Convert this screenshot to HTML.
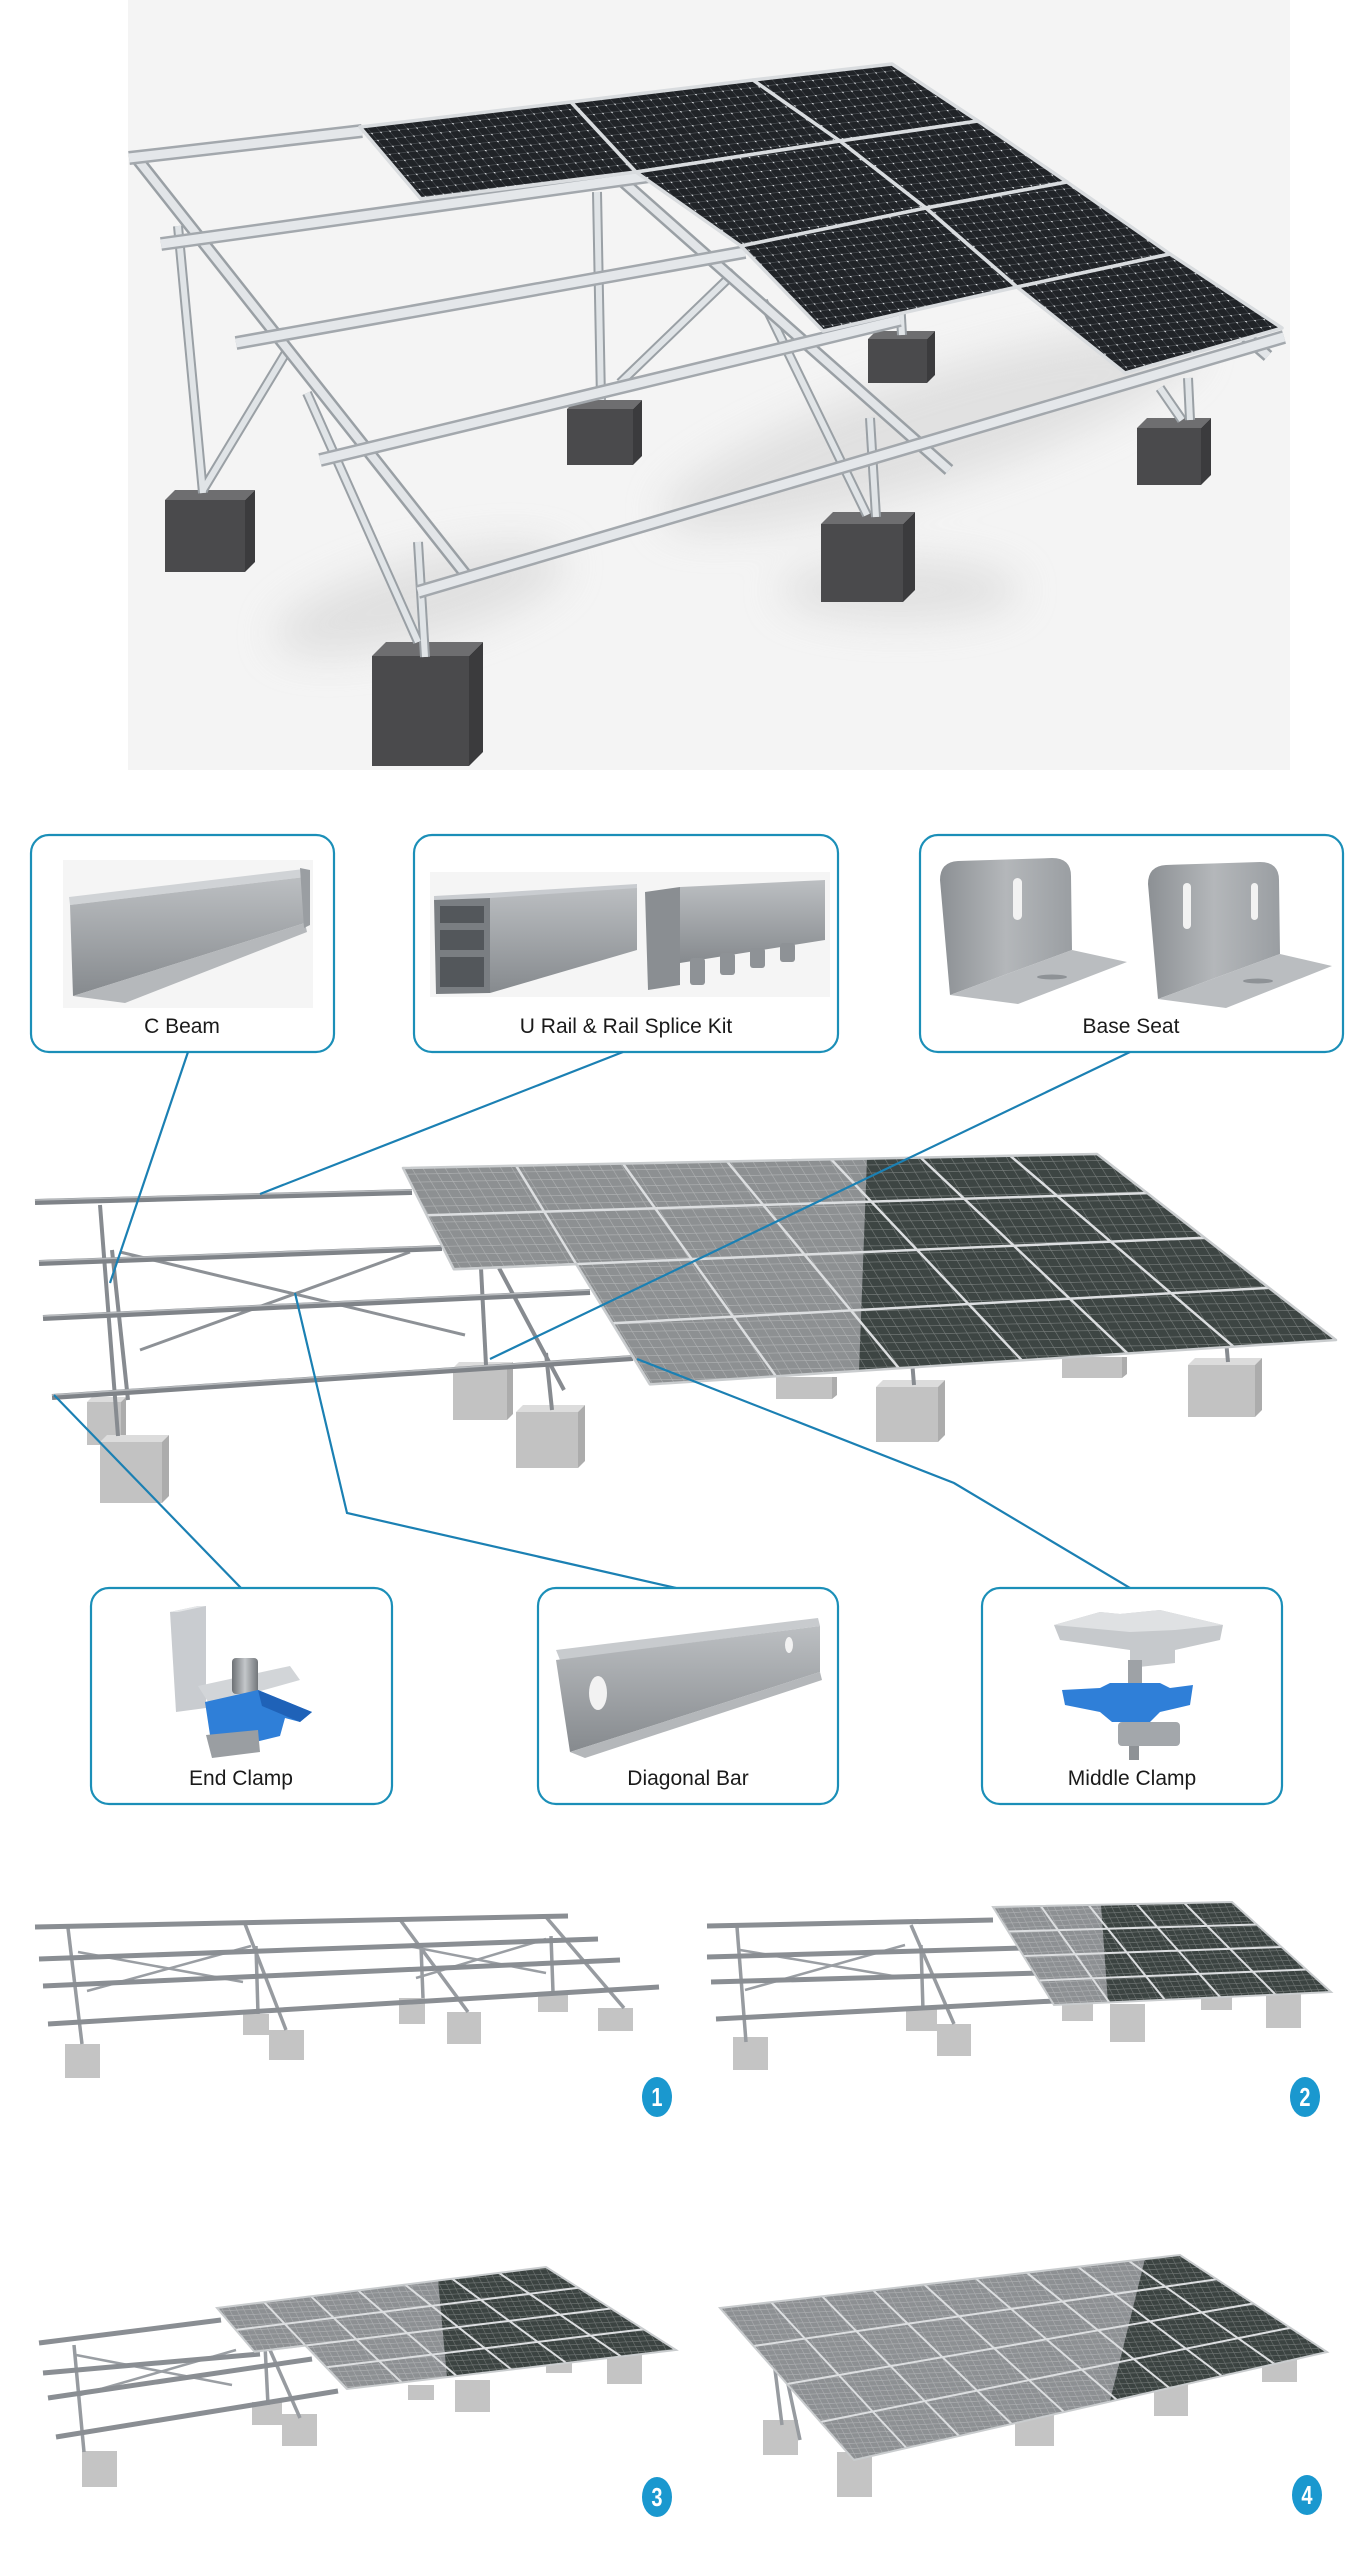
<!DOCTYPE html>
<html><head><meta charset="utf-8">
<style>
html,body{margin:0;padding:0;background:#fff;width:1360px;height:2560px;overflow:hidden;}
svg{display:block;}
text{font-family:"Liberation Sans",Arial,sans-serif;}
</style></head><body>
<svg width="1360" height="2560" viewBox="0 0 1360 2560" xmlns="http://www.w3.org/2000/svg">
<defs>
 <pattern id="pc" width="9" height="7" patternUnits="userSpaceOnUse" patternTransform="matrix(1,-0.12,0.85,1,0,0)">
  <rect width="9" height="7" fill="#202327"/>
  <path d="M0 0.3H9M0.3 0V7" stroke="#4a4e53" stroke-width="0.7"/>
  <circle cx="0.5" cy="0.5" r="0.9" fill="#e2e5e8"/>
 </pattern>
 <pattern id="pg" width="11" height="8" patternUnits="userSpaceOnUse" patternTransform="matrix(1,-0.02,0.6,1,0,0)">
  <path d="M0 0.3H11M0.3 0V8" stroke="#ffffff" stroke-opacity="0.3" stroke-width="0.7"/>
 </pattern>
 <pattern id="pgs" width="7" height="5" patternUnits="userSpaceOnUse" patternTransform="matrix(1,-0.05,0.5,1,0,0)">
  <path d="M0 0.3H7M0.3 0V5" stroke="#ffffff" stroke-opacity="0.28" stroke-width="0.6"/>
 </pattern>
 <filter id="blur" x="-50%" y="-50%" width="200%" height="200%"><feGaussianBlur stdDeviation="20"/></filter>
 <linearGradient id="stl" x1="0" y1="0" x2="0" y2="1"><stop offset="0" stop-color="#bcbfc2"/><stop offset="1" stop-color="#868a8e"/></linearGradient>
 <linearGradient id="stl2" x1="0" y1="0" x2="1" y2="0"><stop offset="0" stop-color="#8c9094"/><stop offset="0.5" stop-color="#b4b7ba"/><stop offset="1" stop-color="#9a9ea2"/></linearGradient>
 <linearGradient id="bolt" x1="0" y1="0" x2="1" y2="0"><stop offset="0" stop-color="#6d7175"/><stop offset="0.5" stop-color="#c4c7ca"/><stop offset="1" stop-color="#72767a"/></linearGradient>

 <g id="tp">
  <line x1="178" y1="226" x2="203" y2="493"/>
  <line x1="203" y1="490" x2="290" y2="346"/>
  <line x1="597" y1="192" x2="601" y2="400"/>
  <line x1="620" y1="383" x2="735" y2="272"/>
  <line x1="900" y1="300" x2="902" y2="335"/>
  <line x1="1188" y1="378" x2="1190" y2="420"/>
  <line x1="1160" y1="388" x2="1182" y2="420"/>
  <line x1="307" y1="393" x2="418" y2="642"/>
  <line x1="418" y1="542" x2="425" y2="657"/>
  <line x1="763" y1="301" x2="867" y2="515"/>
  <line x1="870" y1="418" x2="876" y2="517"/>
 </g>
 <g id="traf">
  <line x1="138" y1="160" x2="470" y2="580"/>
  <line x1="610" y1="170" x2="949" y2="470"/>
  <line x1="1236" y1="328" x2="1268" y2="356"/>
 </g>
 <g id="trail">
  <line x1="129" y1="158" x2="362" y2="131"/>
  <line x1="161" y1="244" x2="650" y2="176"/>
  <line x1="236" y1="343" x2="745" y2="252"/>
  <line x1="320" y1="460" x2="900" y2="320"/>
  <line x1="418" y1="592" x2="1284" y2="337"/>
 </g>
</defs>

<!-- ============ TOP PHOTO ============ -->
<rect x="128" y="0" width="1162" height="770" fill="#f4f4f4"/>
<g filter="url(#blur)" fill="#d8d8d8" opacity="0.7">
 <ellipse cx="930" cy="430" rx="280" ry="55" transform="rotate(-18 930 430)"/>
 <ellipse cx="420" cy="600" rx="150" ry="40" transform="rotate(-15 420 600)"/>
 <ellipse cx="900" cy="590" rx="120" ry="30"/>
</g>

<!-- blocks -->
<g>
 <polygon points="165,500 175,490 255,490 245,500" fill="#6e6e70"/>
 <rect x="165" y="500" width="80" height="72" fill="#4a4a4c"/>
 <polygon points="245,500 255,490 255,562 245,572" fill="#3b3b3d"/>

 <polygon points="567,409 576,400 642,400 633,409" fill="#6e6e70"/>
 <rect x="567" y="409" width="66" height="56" fill="#4a4a4c"/>
 <polygon points="633,409 642,400 642,456 633,465" fill="#3b3b3d"/>

 <polygon points="868,339 876,331 935,331 927,339" fill="#6e6e70"/>
 <rect x="868" y="339" width="59" height="44" fill="#4a4a4c"/>
 <polygon points="927,339 935,331 935,375 927,383" fill="#3b3b3d"/>

 <polygon points="1137,428 1147,418 1211,418 1201,428" fill="#6e6e70"/>
 <rect x="1137" y="428" width="64" height="57" fill="#4a4a4c"/>
 <polygon points="1201,428 1211,418 1211,475 1201,485" fill="#3b3b3d"/>

 <polygon points="821,524 833,512 915,512 903,524" fill="#6e6e70"/>
 <rect x="821" y="524" width="82" height="78" fill="#4a4a4c"/>
 <polygon points="903,524 915,512 915,590 903,602" fill="#3b3b3d"/>

 <polygon points="372,656 386,642 483,642 469,656" fill="#6e6e70"/>
 <rect x="372" y="656" width="97" height="110" fill="#4a4a4c"/>
 <polygon points="469,656 483,642 483,752 469,766" fill="#3b3b3d"/>
</g>

<!-- frame -->
<use href="#tp" stroke="#9aa0a5" stroke-width="10" stroke-linecap="butt"/>
<use href="#tp" stroke="#e0e4e7" stroke-width="6"/>
<use href="#traf" stroke="#9aa0a5" stroke-width="13"/>
<use href="#traf" stroke="#e2e5e8" stroke-width="8"/>
<use href="#trail" stroke="#a3a8ad" stroke-width="14"/>
<use href="#trail" stroke="#e4e7ea" stroke-width="9"/>

<!-- panels -->
<g fill="url(#pc)" stroke="#d9dcdf" stroke-width="3.5" stroke-linejoin="round">
 <polygon points="360,127 571,102 636,172 421,199"/>
 <polygon points="571,102 753,80 840,141 636,172"/>
 <polygon points="753,80 892,64 978,121 840,141"/>
 <polygon points="636,172 840,141 926,208 741,246"/>
 <polygon points="840,141 978,121 1067,182 926,208"/>
 <polygon points="741,246 926,208 1017,287 823,331"/>
 <polygon points="926,208 1067,182 1170,254 1017,287"/>
 <polygon points="1017,287 1170,254 1282,328 1125,373"/>
</g>

<!-- ============ ROW 1 BOXES ============ -->
<g fill="#fff" stroke="#1b8fb8" stroke-width="2.2">
 <rect x="31" y="835" width="303" height="217" rx="18"/>
 <rect x="414" y="835" width="424" height="217" rx="18"/>
 <rect x="920" y="835" width="423" height="217" rx="18"/>
</g>

<!-- C Beam image -->
<rect x="63" y="860" width="250" height="148" fill="#f5f5f5"/>
<polygon points="69,897 304,869 305,877 70,905" fill="#d0d3d6"/>
<polygon points="100,905 124,902 124,917 100,920" fill="#a0a4a8"/>
<polygon points="70,905 305,877 305,923 73,996" fill="url(#stl)"/>
<polygon points="73,996 305,923 307,932 125,1003" fill="#b5b8bb"/>
<polygon points="300,868 310,870 310,925 304,928" fill="#9a9ea2"/>

<!-- U rail image -->
<rect x="430" y="872" width="400" height="125" fill="#f5f5f5"/>
<polygon points="490,897 637,886 637,950 490,993" fill="url(#stl)"/>
<polygon points="434,899 490,896 490,993 436,994" fill="#7a7e82"/>
<rect x="440" y="906" width="44" height="17" fill="#53575b"/>
<rect x="440" y="930" width="44" height="20" fill="#53575b"/>
<rect x="440" y="957" width="44" height="30" fill="#53575b"/>
<polygon points="434,896 490,893 637,884 637,888 490,898 434,900" fill="#c9ccd0"/>
<polygon points="680,887 825,880 825,940 680,963" fill="url(#stl)"/>
<polygon points="645,892 680,887 680,985 648,990" fill="#8a8e92"/>
<g fill="#8e9296">
 <rect x="690" y="958" width="15" height="27" rx="3"/>
 <rect x="720" y="953" width="15" height="22" rx="3"/>
 <rect x="750" y="948" width="15" height="20" rx="3"/>
 <rect x="780" y="943" width="15" height="19" rx="3"/>
</g>

<!-- Base seat image -->
<path d="M940,880 Q940,862 958,861 L1052,858 Q1071,858 1071,876 L1072,950 L950,995 Z" fill="url(#stl2)"/>
<rect x="1013" y="878" width="9" height="42" rx="4.5" fill="#f2f2f2"/>
<polygon points="950,995 1072,950 1127,962 1018,1004" fill="#babdc0"/>
<ellipse cx="1052" cy="977" rx="15" ry="2.5" fill="#8e9296"/>
<path d="M1148,884 Q1148,866 1166,865 L1260,862 Q1279,862 1279,880 L1280,954 L1158,999 Z" fill="url(#stl2)"/>
<rect x="1183" y="883" width="8" height="46" rx="4" fill="#f2f2f2"/>
<rect x="1251" y="883" width="7" height="37" rx="3.5" fill="#f2f2f2"/>
<polygon points="1158,999 1280,954 1332,966 1226,1008" fill="#babdc0"/>
<ellipse cx="1258" cy="981" rx="15" ry="2.5" fill="#8e9296"/>

<g font-size="21" fill="#1a1a1a" text-anchor="middle">
 <text x="182" y="1033">C Beam</text>
 <text x="626" y="1033">U Rail &amp; Rail Splice Kit</text>
 <text x="1131" y="1033">Base Seat</text>
</g>

<!-- ============ MIDDLE ILLUSTRATION ============ -->
<g>
 <!-- concrete blocks -->
 <g>
  <polygon points="87,1402 92,1397 126,1397 121,1402" fill="#dcdcdc"/><rect x="87" y="1402" width="34" height="43" fill="#c2c2c2"/><polygon points="121,1402 126,1397 126,1440 121,1445" fill="#acacac"/>
  <polygon points="100,1442 107,1435 169,1435 162,1442" fill="#dcdcdc"/><rect x="100" y="1442" width="62" height="61" fill="#c2c2c2"/><polygon points="162,1442 169,1435 169,1496 162,1503" fill="#acacac"/>
  <polygon points="453,1368 459,1362 513,1362 507,1368" fill="#dcdcdc"/><rect x="453" y="1368" width="54" height="52" fill="#c2c2c2"/><polygon points="507,1368 513,1362 513,1414 507,1420" fill="#acacac"/>
  <polygon points="516,1412 523,1405 585,1405 578,1412" fill="#dcdcdc"/><rect x="516" y="1412" width="62" height="56" fill="#c2c2c2"/><polygon points="578,1412 585,1405 585,1461 578,1468" fill="#acacac"/>
  <rect x="776" y="1377" width="56" height="22" fill="#c2c2c2"/><polygon points="832,1377 837,1377 837,1395 832,1399" fill="#acacac"/>
  <polygon points="876,1387 883,1380 945,1380 938,1387" fill="#dcdcdc"/><rect x="876" y="1387" width="62" height="55" fill="#c2c2c2"/><polygon points="938,1387 945,1380 945,1435 938,1442" fill="#acacac"/>
  <rect x="1062" y="1357" width="60" height="21" fill="#c2c2c2"/><polygon points="1122,1357 1127,1357 1127,1374 1122,1378" fill="#acacac"/>
  <polygon points="1188,1365 1195,1358 1262,1358 1255,1365" fill="#dcdcdc"/><rect x="1188" y="1365" width="67" height="52" fill="#c2c2c2"/><polygon points="1255,1365 1262,1358 1262,1410 1255,1417" fill="#acacac"/>
 </g>
 <!-- posts & braces -->
 <g stroke="#878b90" stroke-width="4">
  <line x1="100" y1="1205" x2="118" y2="1436"/>
  <line x1="112" y1="1250" x2="128" y2="1400"/>
  <line x1="481" y1="1268" x2="486" y2="1365"/>
  <line x1="499" y1="1268" x2="564" y2="1390"/>
  <line x1="546" y1="1353" x2="552" y2="1410"/>
  <line x1="912" y1="1360" x2="914" y2="1385"/>
  <line x1="1226" y1="1340" x2="1228" y2="1362"/>
 </g>
 <g stroke="#8d9196" stroke-width="3">
  <line x1="120" y1="1252" x2="465" y2="1335"/>
  <line x1="410" y1="1252" x2="140" y2="1350"/>
 </g>
 <g stroke="#7f8388" stroke-width="6">
  <line x1="35" y1="1202" x2="412" y2="1192"/>
  <line x1="39" y1="1263" x2="442" y2="1248"/>
  <line x1="43" y1="1318" x2="590" y2="1292"/>
  <line x1="52" y1="1397" x2="633" y2="1358"/>
 </g>
 <g stroke="#b7babd" stroke-width="1.5">
  <line x1="35" y1="1200" x2="412" y2="1190"/>
  <line x1="39" y1="1261" x2="442" y2="1246"/>
  <line x1="43" y1="1316" x2="590" y2="1290"/>
  <line x1="52" y1="1395" x2="633" y2="1356"/>
 </g>
 <!-- panel array -->
 <polygon points="403,1168 1097,1154 1336,1340 650,1384.4 576.3,1264.1 453.9,1269.3" fill="#8a8d90"/>
 <polygon points="403,1168 867,1158.6 859,1370.9 650,1384.4 576.3,1264.1 453.9,1269.3" fill="#8f9295" opacity="0.6"/>
 <polygon points="867,1158.6 1097,1154 1336,1340 859,1370.9" fill="#3d4543"/>
 <polygon points="403,1168 1097,1154 1336,1340 650,1384.4 576.3,1264.1 453.9,1269.3" fill="url(#pg)"/>
 <g stroke="#dcdee0" stroke-width="2.5">
  <line x1="516.1" y1="1165.7" x2="649.7" y2="1384.4"/>
  <line x1="623.0" y1="1163.6" x2="775.9" y2="1376.2"/>
  <line x1="727.1" y1="1161.5" x2="898.9" y2="1368.2"/>
  <line x1="831.2" y1="1159.4" x2="1021.9" y2="1360.3"/>
  <line x1="920.7" y1="1157.6" x2="1127.7" y2="1353.5"/>
  <line x1="1010.3" y1="1155.8" x2="1233.5" y2="1346.6"/>
  <line x1="426.7" y1="1215.3" x2="1147.2" y2="1193.1"/>
  <line x1="453.9" y1="1269.3" x2="1204.6" y2="1237.7"/>
  <line x1="612.5" y1="1323.2" x2="1269.1" y2="1287.9"/>
 </g>
 <polygon points="403,1168 1097,1154 1336,1340 650,1384.4 576.3,1264.1 453.9,1269.3" fill="none" stroke="#c9ccce" stroke-width="2.5" stroke-linejoin="round"/>
</g>

<!-- connector lines -->
<g fill="none" stroke="#1b80b3" stroke-width="2.2">
 <polyline points="188,1052 110,1283"/>
 <polyline points="623,1052 260,1194"/>
 <polyline points="1130,1052 490,1359"/>
 <polyline points="241,1588 54,1395"/>
 <polyline points="676,1588 347,1513 295,1293"/>
 <polyline points="1130,1588 954,1483 637,1359"/>
</g>

<!-- ============ ROW 2 BOXES ============ -->
<g fill="#fff" stroke="#1b8fb8" stroke-width="2.2">
 <rect x="91" y="1588" width="301" height="216" rx="18"/>
 <rect x="538" y="1588" width="300" height="216" rx="18"/>
 <rect x="982" y="1588" width="300" height="216" rx="18"/>
</g>

<!-- End clamp -->
<path d="M170,1612 L198,1606 L206,1606 L206,1708 L176,1712 Z" fill="#c9ccd0"/>
<polygon points="170,1612 198,1606 206,1606 178,1612" fill="#e4e6e8"/>
<polygon points="198,1686 290,1666 300,1680 210,1705" fill="#d2d5d8"/>
<rect x="232" y="1658" width="26" height="36" rx="4" fill="url(#bolt)"/>
<polygon points="205,1702 258,1690 312,1712 300,1722 285,1718 280,1736 235,1747 210,1735" fill="#2f7fd8"/>
<polygon points="258,1690 312,1712 300,1722 262,1706" fill="#1f62b8"/>
<polygon points="206,1735 258,1730 260,1752 212,1758" fill="#9a9ea2"/>

<!-- Diagonal bar -->
<polygon points="556,1650 818,1618 820,1626 560,1660" fill="#c8cbce"/>
<polygon points="556,1660 820,1626 820,1672 570,1752" fill="url(#stl)"/>
<polygon points="570,1752 820,1672 822,1680 585,1758" fill="#b4b7ba"/>
<ellipse cx="598" cy="1693" rx="9" ry="17" fill="#f2f2f2"/>
<ellipse cx="789" cy="1645" rx="4" ry="8" fill="#f2f2f2"/>

<!-- Middle clamp -->
<polygon points="1054,1625 1100,1612 1120,1614 1160,1610 1223,1625 1220,1640 1175,1650 1175,1663 1130,1668 1130,1650 1060,1640" fill="#c6c9cc"/>
<polygon points="1054,1625 1100,1612 1120,1614 1160,1610 1223,1625 1175,1630 1130,1632" fill="#dfe1e3"/>
<rect x="1128" y="1660" width="14" height="30" fill="#9ea2a6"/>
<polygon points="1062,1690 1100,1688 1110,1683 1160,1683 1170,1688 1193,1685 1190,1705 1160,1712 1150,1722 1112,1722 1100,1712 1065,1705" fill="#2f7fd8"/>
<rect x="1118" y="1722" width="62" height="24" rx="4" fill="#a3a7ab"/>
<rect x="1129" y="1746" width="10" height="14" fill="#8e9296"/>

<g font-size="21" fill="#1a1a1a" text-anchor="middle">
 <text x="241" y="1785">End Clamp</text>
 <text x="688" y="1785">Diagonal Bar</text>
 <text x="1132" y="1785">Middle Clamp</text>
</g>

<!-- ============ BOTTOM IMAGE 1 ============ -->
<g fill="#c4c4c4">
 <rect x="65" y="2044" width="35" height="34"/>
 <rect x="243" y="2014" width="26" height="21"/>
 <rect x="269" y="2030" width="35" height="30"/>
 <rect x="399" y="1998" width="26" height="26"/>
 <rect x="447" y="2012" width="34" height="32"/>
 <rect x="538" y="1992" width="30" height="20"/>
 <rect x="598" y="2008" width="35" height="23"/>
</g>
<g stroke="#979ba0" stroke-width="3.5">
 <line x1="68" y1="1928" x2="82" y2="2044"/>
 <line x1="245" y1="1924" x2="286" y2="2030"/>
 <line x1="401" y1="1921" x2="468" y2="2012"/>
 <line x1="546" y1="1917" x2="624" y2="2008"/>
 <line x1="256" y1="1946" x2="258" y2="2014"/>
 <line x1="421" y1="1946" x2="423" y2="1998"/>
 <line x1="551" y1="1936" x2="553" y2="1992"/>
</g>
<g stroke="#9a9ea3" stroke-width="2.5">
 <line x1="78" y1="1952" x2="243" y2="1982"/>
 <line x1="87" y1="1991" x2="251" y2="1946"/>
 <line x1="408" y1="1946" x2="546" y2="1973"/>
 <line x1="416" y1="1978" x2="546" y2="1939"/>
</g>
<g stroke="#8a8e93" stroke-width="5">
 <line x1="35" y1="1927" x2="568" y2="1916"/>
 <line x1="39" y1="1959" x2="598" y2="1939"/>
 <line x1="43" y1="1986" x2="620" y2="1960"/>
 <line x1="48" y1="2024" x2="659" y2="1987"/>
</g>

<!-- ============ BOTTOM IMAGE 2 ============ -->
<g fill="#c4c4c4">
 <rect x="733" y="2037" width="35" height="33"/>
 <rect x="906" y="2008" width="31" height="23"/>
 <rect x="937" y="2024" width="34" height="32"/>
 <rect x="1062" y="2000" width="31" height="21"/>
 <rect x="1110" y="2004" width="35" height="38"/>
 <rect x="1201" y="1996" width="31" height="14"/>
 <rect x="1266" y="1994" width="35" height="34"/>
</g>
<g stroke="#979ba0" stroke-width="3.5">
 <line x1="737" y1="1927" x2="746" y2="2042"/>
 <line x1="911" y1="1925" x2="954" y2="2024"/>
 <line x1="921" y1="1945" x2="923" y2="2010"/>
</g>
<g stroke="#9a9ea3" stroke-width="2.5">
 <line x1="740" y1="1950" x2="905" y2="1978"/>
 <line x1="745" y1="1990" x2="905" y2="1945"/>
</g>
<g stroke="#8a8e93" stroke-width="5">
 <line x1="707" y1="1926" x2="993" y2="1920"/>
 <line x1="707" y1="1957" x2="1023" y2="1948"/>
 <line x1="711" y1="1982" x2="1041" y2="1973"/>
 <line x1="716" y1="2019" x2="1054" y2="2001"/>
</g>
<polygon points="993,1907 1232,1902 1331,1992 1054,2005" fill="#8d9093"/>
<polygon points="1101,1905 1232,1902 1331,1992 1108,2003" fill="#3b4341"/>
<polygon points="993,1907 1232,1902 1331,1992 1054,2005" fill="url(#pgs)"/>
<g stroke="#dcdee0" stroke-width="2">
 <line x1="1040.8" y1="1906" x2="1109.4" y2="2002.4"/>
 <line x1="1088.6" y1="1905" x2="1164.8" y2="1999.8"/>
 <line x1="1136.4" y1="1904" x2="1220.2" y2="1997.2"/>
 <line x1="1184.2" y1="1903" x2="1275.6" y2="1994.6"/>
 <line x1="1008.25" y1="1931.5" x2="1256.75" y2="1924.5"/>
 <line x1="1023.5" y1="1956" x2="1281.5" y2="1947"/>
 <line x1="1038.75" y1="1980.5" x2="1306.25" y2="1969.5"/>
</g>
<polygon points="993,1907 1232,1902 1331,1992 1054,2005" fill="none" stroke="#c9ccce" stroke-width="2"/>

<!-- ============ BOTTOM IMAGE 3 ============ -->
<g fill="#c4c4c4">
 <rect x="82" y="2451" width="35" height="36"/>
 <rect x="252" y="2402" width="30" height="23"/>
 <rect x="282" y="2414" width="35" height="32"/>
 <rect x="408" y="2385" width="26" height="15"/>
 <rect x="455" y="2380" width="35" height="32"/>
 <rect x="546" y="2360" width="26" height="13"/>
 <rect x="607" y="2350" width="35" height="34"/>
</g>
<g stroke="#979ba0" stroke-width="3.5">
 <line x1="74" y1="2345" x2="84" y2="2452"/>
 <line x1="265" y1="2345" x2="268" y2="2405"/>
 <line x1="270" y1="2350" x2="300" y2="2418"/>
</g>
<g stroke="#9a9ea3" stroke-width="2.5">
 <line x1="76" y1="2355" x2="232" y2="2385"/>
 <line x1="80" y1="2395" x2="236" y2="2350"/>
</g>
<g stroke="#8a8e93" stroke-width="5">
 <line x1="39" y1="2343" x2="221" y2="2320"/>
 <line x1="43" y1="2373" x2="260" y2="2354"/>
 <line x1="48" y1="2398" x2="312" y2="2359"/>
 <line x1="56" y1="2437" x2="338" y2="2391"/>
</g>
<polygon points="217,2308 546,2267 676,2350 347,2389 305.5,2345.5 254.5,2351.75" fill="#8d9093"/>
<polygon points="438,2280 546,2267 676,2350 447,2377" fill="#3b4341"/>
<polygon points="217,2308 546,2267 676,2350 347,2389 305.5,2345.5 254.5,2351.75" fill="url(#pgs)"/>
<g stroke="#dcdee0" stroke-width="2">
 <line x1="264" y1="2302.1" x2="346.9" y2="2389"/>
 <line x1="311" y1="2296.3" x2="401.7" y2="2382.5"/>
 <line x1="358" y1="2290.4" x2="456.6" y2="2376"/>
 <line x1="405" y1="2284.6" x2="511.4" y2="2369.5"/>
 <line x1="452" y1="2278.7" x2="566.3" y2="2363"/>
 <line x1="499" y1="2272.9" x2="621.1" y2="2356.5"/>
 <line x1="235.75" y1="2329.9" x2="578.5" y2="2287.75"/>
 <line x1="254.5" y1="2351.75" x2="611" y2="2308.5"/>
 <line x1="326.2" y1="2367.3" x2="643.5" y2="2329.25"/>
</g>
<polygon points="217,2308 546,2267 676,2350 347,2389 305.5,2345.5 254.5,2351.75" fill="none" stroke="#c9ccce" stroke-width="2"/>

<!-- ============ BOTTOM IMAGE 4 ============ -->
<g fill="#c4c4c4">
 <rect x="763" y="2420" width="35" height="35"/>
 <rect x="837" y="2452" width="35" height="45"/>
 <rect x="1015" y="2405" width="39" height="41"/>
 <rect x="1154" y="2380" width="34" height="36"/>
 <rect x="1262" y="2345" width="35" height="37"/>
</g>
<g stroke="#979ba0" stroke-width="3.5">
 <line x1="770" y1="2330" x2="782" y2="2425"/>
 <line x1="785" y1="2370" x2="800" y2="2440"/>
</g>
<polygon points="720,2308 1180,2255 1327,2352 854,2460" fill="#8d9093"/>
<polygon points="1145,2259 1180,2255 1327,2352 1110,2401" fill="#3b4341"/>
<polygon points="720,2308 1180,2255 1327,2352 854,2460" fill="url(#pgs)"/>
<g stroke="#dcdee0" stroke-width="2">
 <line x1="771.1" y1="2302.1" x2="906.5" y2="2448"/>
 <line x1="822.1" y1="2296.2" x2="959" y2="2436"/>
 <line x1="873.2" y1="2290.3" x2="1011.7" y2="2424"/>
 <line x1="924.2" y1="2284.5" x2="1064" y2="2412"/>
 <line x1="975.8" y1="2278.5" x2="1117" y2="2400"/>
 <line x1="1026.8" y1="2272.7" x2="1169.5" y2="2388"/>
 <line x1="1077.9" y1="2266.8" x2="1222" y2="2376"/>
 <line x1="1128.9" y1="2260.9" x2="1274.5" y2="2364"/>
 <line x1="753.5" y1="2346" x2="1216.75" y2="2279.25"/>
 <line x1="787" y1="2384" x2="1253.5" y2="2303.5"/>
 <line x1="820.5" y1="2422" x2="1290.25" y2="2327.75"/>
</g>
<polygon points="720,2308 1180,2255 1327,2352 854,2460" fill="none" stroke="#c9ccce" stroke-width="2"/>

<!-- number badges -->
<g fill="#1a98cf">
 <ellipse cx="657" cy="2097" rx="15" ry="20"/>
 <ellipse cx="1305" cy="2097" rx="15" ry="20"/>
 <ellipse cx="657" cy="2497" rx="15" ry="20"/>
 <ellipse cx="1307" cy="2495" rx="15" ry="20"/>
</g>
<g fill="#fff" font-size="20" font-weight="bold" text-anchor="middle">
 <text transform="translate(657,2106) scale(1,1.3)">1</text>
 <text transform="translate(1305,2106) scale(1,1.3)">2</text>
 <text transform="translate(657,2506) scale(1,1.3)">3</text>
 <text transform="translate(1307,2504) scale(1,1.3)">4</text>
</g>
</svg>
</body></html>
